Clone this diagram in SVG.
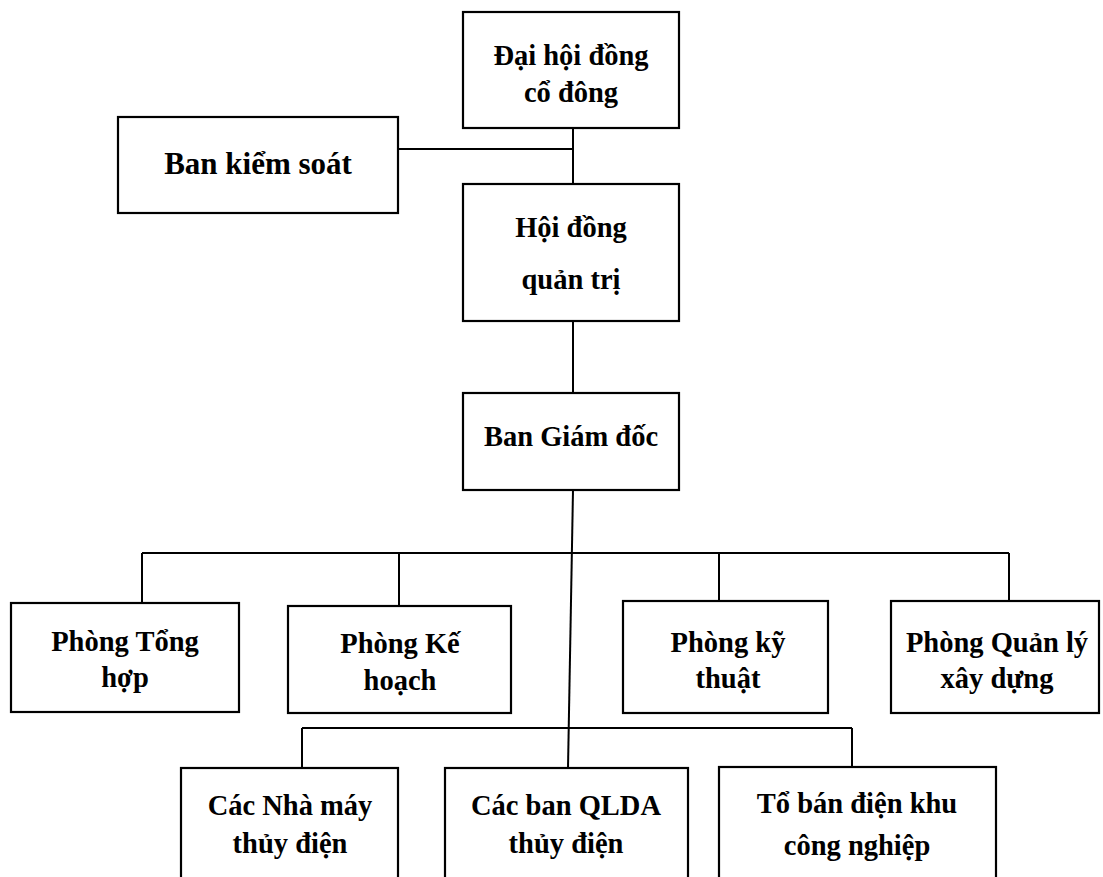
<svg xmlns="http://www.w3.org/2000/svg" width="1103" height="877" viewBox="0 0 1103 877">
<style>
rect{fill:#fff;stroke:#000;stroke-width:2.2}
.c line{stroke:#000;stroke-width:2}
text{font-family:"Liberation Serif","Times New Roman",serif;font-weight:bold;font-size:28.5px;fill:#000;text-anchor:middle}
.big{font-size:31px}
</style>
<rect x="0" y="0" width="1103" height="877" style="stroke:none"/>
<g class="c" id="connectors">
<line x1="573" y1="128" x2="573" y2="184"/>
<line x1="398" y1="149" x2="573" y2="149"/>
<line x1="573" y1="321" x2="573" y2="393"/>
<line x1="573" y1="490" x2="568" y2="768"/>
<line x1="142" y1="553" x2="1009" y2="553"/>
<line x1="142" y1="553" x2="142" y2="603"/>
<line x1="399" y1="553" x2="399" y2="606"/>
<line x1="719" y1="553" x2="719" y2="601"/>
<line x1="1009" y1="553" x2="1009" y2="601"/>
<line x1="302" y1="728" x2="852" y2="728"/>
<line x1="302" y1="728" x2="302" y2="768"/>
<line x1="852" y1="728" x2="852" y2="767"/>
</g>
<g id="dai-hoi-dong-co-dong">
<rect x="463" y="12" width="216" height="116"/>
<text x="571" y="65">Đại hội đồng</text>
<text x="571" y="102">cổ đông</text>
</g>
<g id="ban-kiem-soat">
<rect x="118" y="117" width="280" height="96"/>
<text class="big" x="258" y="174">Ban kiểm soát</text>
</g>
<g id="hoi-dong-quan-tri">
<rect x="463" y="184" width="216" height="137"/>
<text x="571" y="237">Hội đồng</text>
<text x="571" y="289">quản trị</text>
</g>
<g id="ban-giam-doc">
<rect x="463" y="393" width="216" height="97"/>
<text x="571" y="446">Ban Giám đốc</text>
</g>
<g id="phong-tong-hop">
<rect x="11" y="603" width="228" height="109"/>
<text x="125" y="651">Phòng Tổng</text>
<text x="125" y="687">hợp</text>
</g>
<g id="phong-ke-hoach">
<rect x="288" y="606" width="223" height="107"/>
<text x="400" y="653">Phòng Kế</text>
<text x="400" y="690">hoạch</text>
</g>
<g id="phong-ky-thuat">
<rect x="623" y="601" width="205" height="112"/>
<text x="728" y="652">Phòng kỹ</text>
<text x="728" y="688">thuật</text>
</g>
<g id="phong-quan-ly-xay-dung">
<rect x="891" y="601" width="208" height="112"/>
<text x="997" y="652">Phòng Quản lý</text>
<text x="997" y="688">xây dựng</text>
</g>
<g id="cac-nha-may-thuy-dien">
<rect x="181" y="768" width="217" height="120"/>
<text x="290" y="815">Các Nhà máy</text>
<text x="290" y="853">thủy điện</text>
</g>
<g id="cac-ban-qlda-thuy-dien">
<rect x="445" y="768" width="243" height="120"/>
<text x="566" y="815">Các ban QLDA</text>
<text x="566" y="853">thủy điện</text>
</g>
<g id="to-ban-dien-khu-cong-nghiep">
<rect x="719" y="767" width="277" height="120"/>
<text x="857" y="813">Tổ bán điện khu</text>
<text x="857" y="855">công nghiệp</text>
</g>
</svg>
